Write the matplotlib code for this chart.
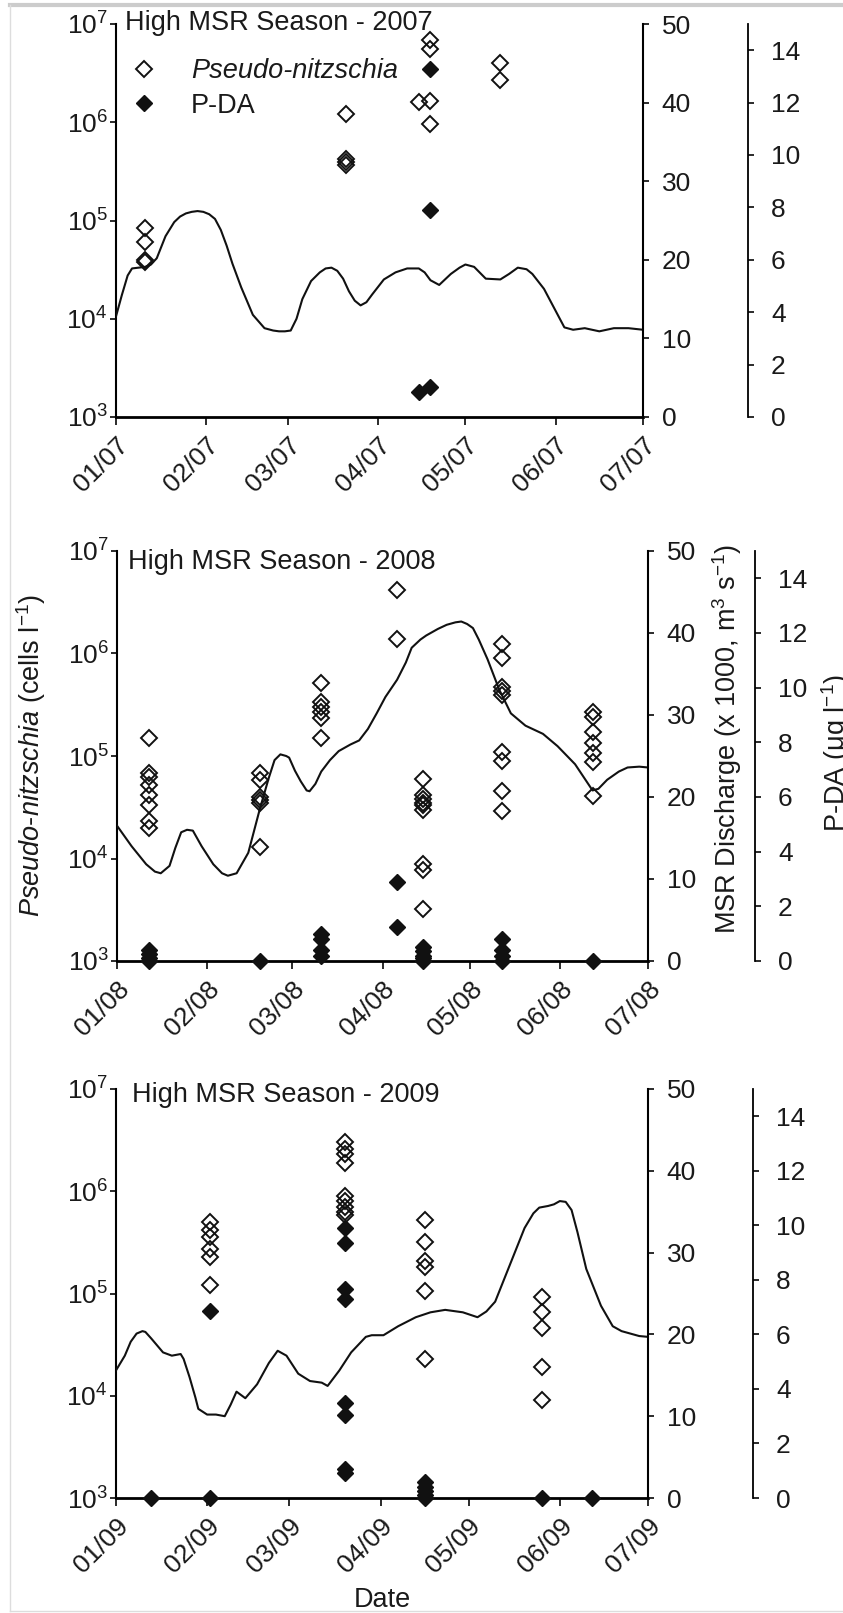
import numpy as np
import pandas as pd
import matplotlib
matplotlib.use('Agg')
import matplotlib.pyplot as plt
import matplotlib.dates as mdates
from matplotlib.lines import Line2D
from matplotlib.ticker import NullLocator

plt.rcParams['font.family'] = ['Liberation Sans', 'DejaVu Sans']
plt.rcParams['mathtext.fontset'] = 'custom'
plt.rcParams['mathtext.rm'] = 'Liberation Sans'
plt.rcParams['mathtext.it'] = 'Liberation Sans:italic'
plt.rcParams['mathtext.bf'] = 'Liberation Sans:bold'

# ---- 2007 ----
pn07_date = (['2007-01-11'] * 4 + ['2007-03-21'] * 4 + ['2007-04-15'] +
             ['2007-04-19'] * 4 + ['2007-05-13'] * 2)
pn07_val = [8.3e4, 6.1e4, 4.0e4, 3.8e4,
            1.2e6, 4.2e5, 3.9e5, 3.7e5,
            1.6e6,
            6.8e6, 5.6e6, 1.65e6, 9.7e5,
            4.0e6, 2.7e6]
pda07_date = ['2007-04-19', '2007-04-19', '2007-04-19', '2007-04-15']
pda07_val = [13.3, 7.9, 1.15, 0.97]
msr07_day = [0, 2, 4, 5.5, 10, 12, 14, 17, 20, 22, 24, 26, 28, 30, 32, 34, 36, 38, 40, 43,
             47, 51, 54, 56, 58, 60, 62, 64, 67, 70, 72, 74, 76, 78, 80, 82, 84, 86, 88, 92,
             96, 100, 104, 106, 108, 111, 115, 118, 120, 123, 127, 132, 135, 138, 141, 143, 147, 151, 154, 157,
             161, 166, 171, 176, 181]
msr07_val = [12.8, 15.5, 18.0, 18.9, 19.1, 19.4, 20.2, 23.0, 24.8, 25.5, 25.9, 26.1, 26.2, 26.1, 25.8, 25.2, 23.8, 21.8, 19.5, 16.5,
             13.0, 11.3, 11.0, 10.9, 10.9, 11.0, 12.5, 15.0, 17.3, 18.4, 18.9, 19.0, 18.6, 17.6, 16.0, 14.8, 14.2, 14.6, 15.6, 17.5,
             18.4, 18.9, 18.9, 18.4, 17.4, 16.8, 18.2, 19.0, 19.4, 19.1, 17.6, 17.5, 18.2, 19.0, 18.8, 18.2, 16.3, 13.5, 11.4, 11.1,
             11.3, 10.9, 11.3, 11.3, 11.1]

# ---- 2008 ----
pn08_date = (['2008-01-12'] * 8 + ['2008-02-19'] * 6 + ['2008-03-11'] * 6 + ['2008-04-06'] * 2 +
             ['2008-04-15'] * 9 + ['2008-05-12'] * 9 + ['2008-06-12'] * 7)
pn08_val = [1.5e5, 6.8e4, 6.2e4, 5.2e4, 4.2e4, 3.3e4, 2.3e4, 2.0e4,
            6.8e4, 5.8e4, 4.0e4, 3.7e4, 3.5e4, 1.3e4,
            5.2e5, 3.4e5, 3.0e5, 2.7e5, 2.35e5, 1.5e5,
            4.2e6, 1.4e6,
            6.0e4, 4.2e4, 3.8e4, 3.5e4, 3.3e4, 3.0e4, 8.8e3, 7.8e3, 3.2e3,
            1.25e6, 9.0e5, 4.7e5, 4.3e5, 3.9e5, 1.1e5, 9.0e4, 4.6e4, 2.9e4,
            2.7e5, 2.4e5, 1.7e5, 1.34e5, 1.07e5, 8.7e4, 4.1e4]
pda08_date = (['2008-01-12'] * 4 + ['2008-02-19'] + ['2008-03-11'] * 4 + ['2008-04-06'] * 2 +
              ['2008-04-15'] * 5 + ['2008-05-12'] * 4 + ['2008-06-12'])
pda08_val = [0.4, 0.25, 0.1, 0,
             0,
             1.0, 0.8, 0.4, 0.2,
             2.9, 1.25,
             0.5, 0.35, 0.2, 0.1, 0,
             0.8, 0.4, 0.2, 0,
             0]
msr08_day = [0, 5, 10, 13, 15, 18, 20, 22, 24, 26, 29, 33, 36, 38, 41, 45, 49, 52, 54, 56,
             58, 59, 61, 63, 65, 66, 68, 70, 73, 76, 80, 83, 86, 89, 92, 96, 99, 101, 104, 106,
             110, 113, 116, 118, 120, 122, 124, 127, 131, 135, 140, 146, 151, 157, 160, 163, 165, 168, 172, 175,
             179, 182]
msr08_val = [16.5, 14.0, 11.8, 10.9, 10.7, 11.6, 13.8, 15.7, 16.0, 15.9, 14.0, 11.8, 10.7, 10.4, 10.7, 13.2, 18.6, 22.3, 24.5, 25.2,
             25.0, 24.8, 23.2, 21.9, 20.8, 20.7, 21.6, 23.1, 24.5, 25.6, 26.4, 26.9, 28.3, 30.2, 32.2, 34.3, 36.4, 38.2, 39.2, 39.7,
             40.5, 41.0, 41.3, 41.4, 41.1, 40.6, 39.2, 36.8, 33.1, 30.2, 28.7, 27.7, 26.2, 24.0, 22.4, 20.8, 21.0, 22.1, 23.1, 23.6,
             23.7, 23.6]

# ---- 2009 ----
pn09_date = (['2009-02-02'] * 6 + ['2009-03-20'] * 9 + ['2009-04-16'] * 6 + ['2009-05-26'] * 5)
pn09_val = [5.0e5, 4.2e5, 3.6e5, 2.7e5, 2.3e5, 1.2e5,
            3.0e6, 2.6e6, 2.3e6, 1.9e6, 9.0e5, 8.0e5, 7.0e5, 6.2e5, 5.8e5,
            5.2e5, 3.2e5, 2.1e5, 1.8e5, 1.05e5, 2.3e4,
            9.3e4, 6.6e4, 4.6e4, 1.9e4, 9.1e3]
pda09_date = (['2009-01-13'] + ['2009-02-02'] * 2 + ['2009-03-20'] * 8 + ['2009-04-16'] * 5 +
              ['2009-05-26'] + ['2009-06-12'])
pda09_val = [0,
             6.85, 0,
             9.9, 9.35, 7.65, 7.3, 3.5, 3.05, 1.05, 0.9,
             0.6, 0.4, 0.25, 0.1, 0,
             0,
             0]
msr09_day = [0, 3, 5, 7, 9, 10, 12, 16, 19, 22, 23, 25, 27, 28, 31, 34, 37, 39, 41, 44,
             48, 52, 55, 58, 62, 66, 70, 72, 76, 80, 85, 87, 91, 96, 102, 107, 112, 118, 123, 126,
             129, 134, 139, 142, 144, 147, 149, 151, 153, 155, 157, 160, 165, 169, 172, 174, 178, 181]
msr09_val = [15.6, 17.4, 19.1, 20.1, 20.4, 20.3, 19.5, 17.8, 17.4, 17.6, 17.0, 14.8, 12.3, 10.9, 10.2, 10.2, 10.0, 11.4, 13.0, 12.2,
             13.9, 16.5, 18.0, 17.4, 15.2, 14.3, 14.1, 13.7, 15.6, 17.8, 19.7, 19.9, 19.9, 21.0, 22.1, 22.7, 23.0, 22.7, 22.1, 22.8,
             24.0, 28.5, 33.0, 34.8, 35.5, 35.7, 35.9, 36.3, 36.2, 35.2, 32.5, 28.0, 23.5, 21.0, 20.4, 20.2, 19.8, 19.7]

years = [2007, 2008, 2009]
pn_date = [pn07_date, pn08_date, pn09_date]
pn_val = [pn07_val, pn08_val, pn09_val]
pda_date = [pda07_date, pda08_date, pda09_date]
pda_val = [pda07_val, pda08_val, pda09_val]
msr_day = [msr07_day, msr08_day, msr09_day]
msr_val = [msr07_val, msr08_val, msr09_val]

W, H = 843, 1613
fig = plt.figure(figsize=(W / 100, H / 100), dpi=100)
# left, right, top, bottom in pixels ; offset of P-DA spine in pixels
boxes = [(116, 643, 24, 417, 105), (117, 648, 551, 961, 107), (116, 648, 1089, 1498, 105)]
title_pos = [(125, 23), (128, 562), (132, 1095)]
fs = 19
txt = '#1a1a1a'

for i, yr in enumerate(years):
    l, r, t, b, off = boxes[i]
    ax = fig.add_axes([l / W, 1 - b / H, (r - l) / W, (b - t) / H])
    ax.set_yscale('log')
    ax.set_ylim(1e3, 1e7)
    ax.yaxis.set_minor_locator(NullLocator())
    ax.set_xlim(pd.Timestamp(f'{yr}-01-01'), pd.Timestamp(f'{yr}-07-01'))
    ax.xaxis.set_major_locator(mdates.MonthLocator())
    ax.xaxis.set_major_formatter(mdates.DateFormatter('%m/%y'))
    for s in ['top', 'right']:
        ax.spines[s].set_visible(False)
    ax.spines['left'].set_linewidth(1.5)
    ax.spines['bottom'].set_linewidth(2.0)
    ax.tick_params(axis='y', direction='out', length=4.5, width=1.3, labelsize=fs, pad=1.5, colors=txt)
    ax.tick_params(axis='x', direction='out', length=5.5, width=1.3, labelsize=fs, pad=6, colors=txt)
    for lab in ax.get_xticklabels():
        lab.set_rotation(45)
        lab.set_ha('right')
        lab.set_va('top')
        lab.set_rotation_mode('anchor')

    ax2 = ax.twinx()
    ax2.set_ylim(0, 50)
    ax2.set_yticks([0, 10, 20, 30, 40, 50])
    for s in ['top', 'left', 'bottom']:
        ax2.spines[s].set_visible(False)
    ax2.spines['right'].set_linewidth(1.5)
    ax2.tick_params(axis='y', direction='out', length=4.5, width=1.3, labelsize=fs, pad=9, colors=txt)

    ax3 = ax.twinx()
    ax3.set_ylim(0, 15)
    ax3.set_yticks([0, 2, 4, 6, 8, 10, 12, 14])
    for s in ['top', 'left', 'bottom']:
        ax3.spines[s].set_visible(False)
    ax3.spines['right'].set_position(('outward', off * 0.72))
    ax3.spines['right'].set_linewidth(1.3)
    ax3.tick_params(axis='y', direction='out', length=4.5, width=1.3, labelsize=fs, pad=12, colors=txt)

    xs = pd.to_datetime(pn_date[i])
    ax.plot(xs, pn_val[i], 'D', mfc='none', mec='#111111', ms=8, mew=1.4, ls='none', clip_on=False, zorder=4)

    xl = pd.Timestamp(f'{yr}-01-01') + pd.to_timedelta(msr_day[i], unit='D')
    ax2.plot(xl, msr_val[i], '-', color='#111111', lw=1.5, solid_joinstyle='round')

    xp = pd.to_datetime(pda_date[i])
    ax3.plot(xp, pda_val[i], 'D', color='#111111', ms=8, ls='none', clip_on=False, zorder=5)

    tx, ty = title_pos[i]
    fig.text(tx / W, 1 - ty / H, f'High MSR Season - {yr}', fontsize=19.5, color=txt, ha='left', va='center')

    if i == 0:
        h1 = Line2D([], [], marker='D', ls='none', mfc='none', mec='#111111', ms=8, mew=1.4)
        h2 = Line2D([], [], marker='D', ls='none', color='#111111', ms=8)
        leg = ax3.legend([h1, h2], ['Pseudo-nitzschia', 'P-DA'], loc='upper left',
                         bbox_to_anchor=(130.5 / W, 1 - 58 / H), bbox_transform=fig.transFigure,
                         frameon=False, fontsize=19.5, borderpad=0, handlelength=1.0,
                         handletextpad=1.24, labelspacing=0.32, borderaxespad=0)
        leg.get_texts()[0].set_fontstyle('italic')
        for t_ in leg.get_texts():
            t_.set_color(txt)
    if i == 2:
        fig.text(382 / W, 1 - 1600 / H, 'Date', fontsize=19.5, color=txt, ha='center', va='center')

fig.text(31 / W, 1 - 756 / H, r'$\it{Pseudo}$-$\it{nitzschia}$ (cells l$^{-1}$)', rotation=90,
         fontsize=19.5, color=txt, ha='center', va='center')
fig.text(727 / W, 1 - 739 / H, r'MSR Discharge (x 1000, m$^3$ s$^{-1}$)', rotation=90,
         fontsize=19.5, color=txt, ha='center', va='center')
fig.text(836 / W, 1 - 753 / H, r'P-DA ($\mathrm{\mu}$g l$^{-1}$)', rotation=90,
         fontsize=19.5, color=txt, ha='center', va='center')

# light frame of the original figure
fig.add_artist(Line2D([10 / W, 1], [1 - 5 / H, 1 - 5 / H], transform=fig.transFigure, color='#cccccc', lw=3))
fig.add_artist(Line2D([10 / W, 10 / W], [1 - 5 / H, 1 - 1611 / H], transform=fig.transFigure, color='#dddddd', lw=1))
fig.add_artist(Line2D([10 / W, 1], [1 - 1611 / H, 1 - 1611 / H], transform=fig.transFigure, color='#dddddd', lw=1))

fig.savefig('out.png', dpi=100)
